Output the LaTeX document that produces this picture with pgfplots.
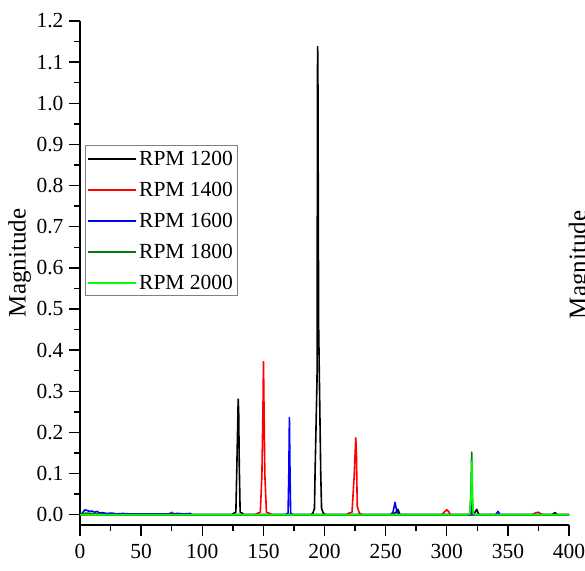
\documentclass[border=0pt]{standalone}
\usepackage{fontspec}
\setmainfont{Liberation Serif}
\usepackage{pgfplots}
\pgfplotsset{compat=1.18}
\definecolor{dgreen}{RGB}{0,128,0}
\definecolor{bgreen}{RGB}{0,255,0}
\begin{document}
\begin{tikzpicture}
\useasboundingbox (-80pt,-45pt) rectangle (505pt,525pt);
\begin{axis}[
  at={(0,0)}, anchor=south west,
  scale only axis, width=489pt, height=504pt,
  xmin=0, xmax=400, ymin=-0.025, ymax=1.2,
  axis lines*=left,
  axis line style={line width=1.6pt},
  tick align=outside,
  major tick length=11pt, minor tick length=6pt,
  every tick/.style={black, line width=1.4pt},
  xtick={0,50,...,400}, minor xtick={25,75,...,375},
  ytick={0,0.1,...,1.21}, minor ytick={0.05,0.15,...,1.16},
  /pgf/number format/assume math mode=true,
  yticklabel style={xshift=-2pt, /pgf/number format/fixed, /pgf/number format/fixed zerofill, /pgf/number format/precision=1},
  xticklabel style={yshift=-5pt, /pgf/number format/fixed},
  ticklabel style={font=\fontsize{21.5}{25}\selectfont},
  ylabel={Magnitude},
  ylabel style={at={(axis description cs:-0.093,0.52)}, anchor=south, font=\fontsize{25}{30}\selectfont},
  legend style={at={(axis description cs:0.0102,0.753)}, anchor=north west,
    draw=gray, line width=0.8pt, font=\fontsize{21.5}{25}\selectfont,
    row sep=13pt, inner xsep=2pt, inner ysep=4pt,
    nodes={inner sep=2pt, text height=14pt, text depth=0pt}},
  legend cell align=left,
  legend image code/.code={\draw[#1, line width=1.8pt] (0pt,0pt) -- (48pt,0pt);},
  every axis plot/.append style={line width=1.6pt, line join=round},
  clip=false,
]
\addplot[black] coordinates {
(0,0) (20,0.002) (40,0.001) (60,0) (124,0) (126,0.004) (127.5,0.006) (128.3,0.117)
(129.4,0.281) (129.8,0.25) (130.3,0.117) (131,0.006) (132.5,0.004) (134,0)
(189,0) (190.5,0.004) (191.8,0.015) (192.3,0.104) (193.9,0.332) (194.3,1.087)
(194.4,1.138) (194.6,1.087) (195.2,0.46) (196.9,0.104) (197.6,0.015) (199,0.004) (201,0)
(256,0) (258.5,0.006) (260,0.013) (261.5,0.002) (262,0)
(322,0) (323.5,0.008) (324.5,0.013) (326,0.002) (327,0)
(386,0) (388.5,0.005) (390.5,0) (400,0)};
\addlegendentry{RPM 1200}
\addplot[red] coordinates {
(0,0) (70,0) (73,0.002) (75,0.006) (77,0.001) (79,0)
(143,0) (145.5,0.004) (147.5,0.006) (148.8,0.097) (149.7,0.267) (150.1,0.372)
(150.5,0.267) (151.2,0.097) (152.5,0.006) (154.5,0.004) (157,0)
(218,0) (220,0.004) (222.5,0.006) (224.2,0.09) (225.6,0.187) (226.1,0.15)
(226.8,0.02) (228.5,0.004) (231,0)
(296,0) (298.5,0.008) (300,0.012) (301.5,0.008) (303,0)
(319,0) (320.5,0.003) (322,0)
(370,0) (373,0.005) (375,0.006) (377,0.002) (379,0) (400,0)};
\addlegendentry{RPM 1400}
\addplot[blue] coordinates {
(0,0) (2,0.004) (4,0.012) (6,0.01) (8,0.008) (10,0.009) (12,0.006) (14,0.008)
(16,0.004) (18,0.005) (22,0.003) (26,0.004) (30,0.002) (35,0.003) (40,0.002)
(50,0.002) (60,0.002) (70,0.002) (80,0.003) (85,0.002) (90,0.003) (92,0)
(168,0) (170.2,0.004) (170.8,0.10) (171.3,0.236) (171.8,0.10) (172.3,0.004) (174,0)
(254,0) (256,0.006) (257.7,0.03) (259,0.01) (260.5,0.002) (262,0)
(319.5,0) (320.5,0.04) (321.3,0.002) (322,0)
(340,0) (342,0.008) (343.5,0) (400,0)};
\addlegendentry{RPM 1600}
\addplot[dgreen] coordinates {
(0,0) (5,0.004) (10,0.003) (15,0.002) (20,0)
(317,0) (319,0.003) (319.8,0.06) (320.4,0.152) (320.9,0.05) (321.5,0.003) (323,0) (400,0)};
\addlegendentry{RPM 1800}
\addplot[bgreen] coordinates {
(0,0) (317,0) (319,0.002) (319.9,0.05) (320.5,0.13) (321,0.04) (321.8,0.002) (323,0) (400,0)};
\addlegendentry{RPM 2000}
\end{axis}
\node[rotate=90, anchor=base, font=\fontsize{25}{30}\selectfont] at (506pt,260pt) {Magnitude};
\end{tikzpicture}
\end{document}
